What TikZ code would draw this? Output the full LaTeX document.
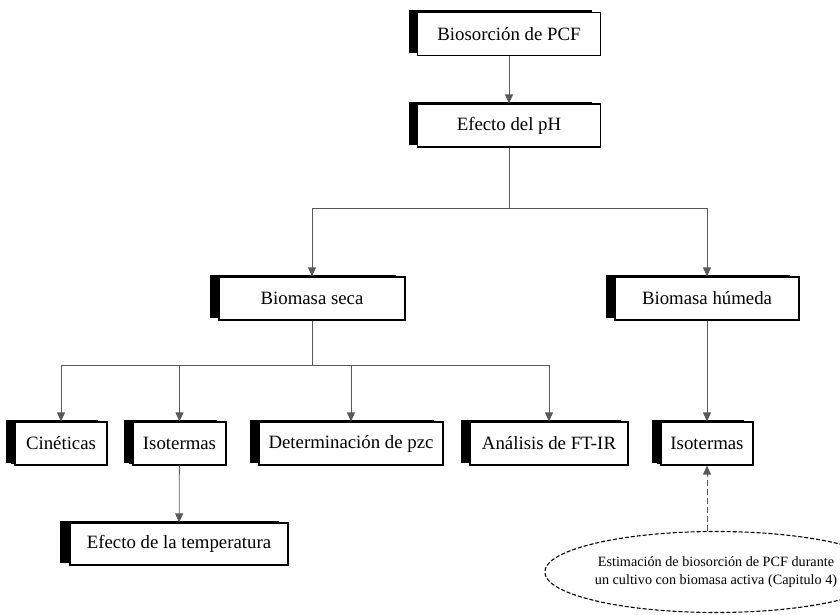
\documentclass[tikz,border=0pt]{standalone}
\usepackage{fontspec}
\setmainfont{Liberation Serif}
\usepackage{xcolor}
\usetikzlibrary{arrows.meta}
\usetikzlibrary{shadows}
\usetikzlibrary{shapes.geometric}

\begin{document}
\begin{tikzpicture}[x=1pt,y=-1pt,>={Triangle[width=8pt,length=9pt]},
                    main box/.style={rectangle,draw,fill=white,line width=1.2pt,minimum height=43pt,
                      inner sep=0pt,font=\fontsize{18.8}{22}\selectfont,
                      general shadow={fill=black,shadow xshift=-9pt,shadow yshift=2pt}},
                    small box/.style={main box,
                      general shadow={fill=black,shadow xshift=-4pt,shadow yshift=1.5pt}},
                    note/.style={ellipse,draw,dashed,line width=1.1pt,dash pattern=on 4pt off 2pt,
                      minimum width=238pt,minimum height=81pt,inner sep=0pt,align=center,
                      font=\fontsize{14.2}{18}\selectfont},
                    link/.style={->,draw=black!65,line width=0.8pt}]
\useasboundingbox (0,0) rectangle (840,615);

\node[main box, minimum width=183pt] (bio) at (509,34) {Biosorción de PCF};
\node[main box, minimum width=183pt] (ph) at (509,125.5) {Efecto del pH};
\node[main box, minimum width=186pt] (seca) at (312,298.5) {Biomasa seca};
\node[main box, minimum width=184pt] (humeda) at (707,298.5) {Biomasa húmeda};
\node[small box, minimum width=92pt] (cin) at (61,443.5) {Cinéticas};
\node[small box, minimum width=93pt] (iso) at (179.5,443.5) {Isotermas};
\node[main box, minimum width=184pt] (pzc) at (351,443.5) {Determinación de pzc};
\node[main box, minimum width=158pt,
      general shadow={fill=black,shadow xshift=-7pt,shadow yshift=2pt}] (ftir) at (549,443.5) {Análisis de FT-IR};
\node[small box, minimum width=92pt] (isoh) at (707,443.5) {Isotermas};
\node[main box, minimum width=218pt, minimum height=42pt,
      general shadow={fill=black,shadow xshift=-10pt,shadow yshift=2pt}] (temp) at (179,544) {Efecto de la temperatura};
\node[note] (est) at (716,572) {Estimación de biosorción de PCF durante\\un cultivo con biomasa activa (Capitulo 4)};

\coordinate (split1) at (509,208);
\coordinate (split2) at (312,365);

\draw[link] (bio) -- (ph);
\draw[link] (ph.south) -- (split1) -| (seca.north);
\draw[link] (split1) -| (humeda.north);
\draw[link] (seca.south) -- (split2) -| (cin.north);
\draw[link] (split2) -| (iso.north);
\draw[link] (split2) -| (pzc.north);
\draw[link] (split2) -| (ftir.north);
\draw[link] (iso) -- (temp);
\draw[link] (humeda) -- (isoh);
\draw[link,dashed,dash pattern=on 6pt off 3pt] (est.north -| isoh.south) -- (isoh.south);

\end{tikzpicture}
\end{document}
